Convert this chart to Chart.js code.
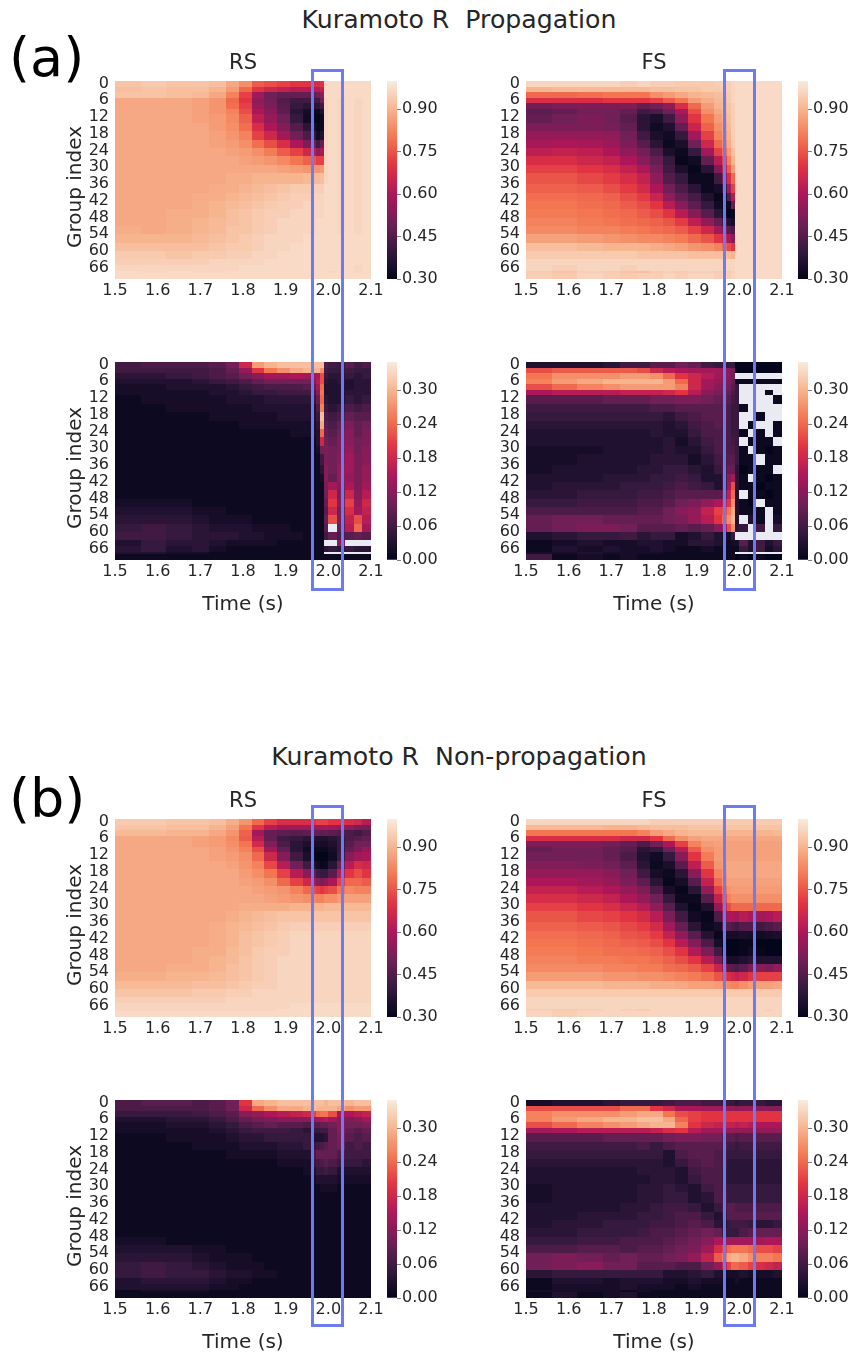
<!DOCTYPE html>
<html>
<head>
<meta charset="utf-8">
<title>Kuramoto R</title>
<script src="https://cdn.jsdelivr.net/npm/chart.js@4"></script>
<style>
  html, body { margin: 0; background: #fff; }
  body { position: relative; width: 855px; height: 1354px; overflow: hidden; font-family: "DejaVu Sans", sans-serif; }
  canvas { position: absolute; }
  .suptitle { position: absolute; left: 0; width: 918px; text-align: center; font-size: 25.2px; color: #262626; white-space: pre; line-height: 30px; }
  .letter { position: absolute; left: 9px; font-size: 54px; line-height: 60px; color: #000; }
  .marker { position: absolute; box-sizing: border-box; width: 33px; border: 3.5px solid #6d7af2; }
  .ylabel { position: absolute; left: -26px; width: 200px; height: 24px; line-height: 24px; text-align: center; font-size: 20px; color: #262626; transform: rotate(-90deg); }
</style>
</head>
<body>
<div class="suptitle" style="top:5px">Kuramoto R  Propagation</div>
<div class="letter" style="top:28px">(a)</div>
<div class="suptitle" style="top:742px">Kuramoto R  Non-propagation</div>
<div class="letter" style="top:769px">(b)</div>

<script>
const N = null;
const timeEdges = [1.50,1.56,1.62,1.68,1.72,1.76,1.79,1.82,1.85,1.88,1.91,1.94,1.96,1.97,1.98,1.99,2.00,2.02,2.04,2.06,2.08,2.10];
const rowEdges = [0,2,4,6,8,10,12,15,18,21,24,27,30,33,37,40,43,46,49,52,55,58,61,64,66,68,69,71];
const timeTicks = [1.5,1.6,1.7,1.8,1.9,2.0,2.1];
const groupTicks = [0,6,12,18,24,30,36,42,48,54,60,66];
const meanTicks = [0.30,0.45,0.60,0.75,0.90];
const stdTicks = [0.00,0.06,0.12,0.18,0.24,0.30];

// values in hundredths, one line per row band, one number per time column, N = empty cell
const aRsMean = [
[93,94,93,93,92,88,84,76,74,72,70,70,68,68,70,97,97,97,97,97,97],
[92,93,92,92,90,86,78,70,66,64,62,62,62,62,64,97,97,97,97,97,97],
[93,93,92,91,88,82,72,58,50,48,48,48,48,50,55,97,97,97,97,97,97],
[88,88,88,87,85,78,70,55,50,45,42,42,42,42,50,96,97,96,97,96,97],
[88,88,88,87,85,79,72,57,52,46,40,38,38,38,42,96,97,96,97,96,97],
[88,88,88,87,85,82,74,60,54,47,38,34,32,32,36,96,97,96,97,96,97],
[88,88,88,87,86,83,77,63,56,50,40,33,31,30,32,96,97,96,97,96,97],
[88,88,88,88,86,84,79,68,60,53,45,38,35,31,32,96,97,96,97,96,97],
[88,88,88,88,87,85,82,72,66,58,50,44,40,33,36,96,97,96,97,96,97],
[88,88,88,88,87,86,84,79,74,68,60,52,50,42,48,96,97,96,97,96,97],
[88,88,88,88,88,87,86,84,81,76,72,66,62,55,60,96,97,96,97,96,97],
[88,88,88,88,88,88,87,86,85,83,80,77,75,72,72,96,97,96,97,96,97],
[88,88,88,88,88,88,88,88,88,87,86,85,85,85,86,96,97,96,97,96,97],
[88,88,88,88,88,89,89,90,90,90,90,91,91,91,92,96,97,96,97,96,97],
[88,88,88,88,89,89,90,91,92,93,94,94,95,95,95,97,97,96,97,96,97],
[88,88,88,89,89,90,91,92,93,94,95,95,96,96,96,97,97,96,97,96,97],
[88,88,88,89,90,91,92,93,94,95,95,96,96,96,96,97,97,96,97,96,97],
[88,88,89,89,90,92,93,94,95,95,96,96,96,96,96,97,97,96,97,96,97],
[88,88,89,90,91,92,93,94,95,96,96,96,96,97,97,97,97,96,97,96,97],
[89,88,89,90,91,93,93,94,95,96,96,96,96,97,97,97,97,96,97,96,97],
[90,90,90,91,92,93,94,95,96,96,96,97,97,97,97,97,97,97,97,97,97],
[92,92,92,92,93,94,94,95,96,96,97,97,97,97,97,97,97,97,97,97,97],
[94,94,93,94,94,95,95,96,96,97,97,97,97,97,97,97,97,97,97,97,97],
[95,95,95,95,96,96,96,96,97,97,97,97,97,97,97,97,97,97,97,97,97],
[96,96,96,96,96,96,97,97,97,97,97,97,97,97,97,97,97,97,97,96,97],
[97,96,97,96,96,97,97,97,97,97,97,97,97,97,97,97,96,97,97,96,97],
[97,97,97,97,97,97,97,97,97,97,97,97,97,97,97,97,97,97,97,97,97]
];
const aFsMean = [
[96,96,96,96,95,96,95,95,94,94,94,95,95,95,96,97,97,97,97,97,97],
[90,91,91,91,91,91,92,92,93,93,94,94,94,95,96,97,97,97,97,97,97],
[78,78,79,80,80,80,84,86,88,90,91,92,93,94,96,97,97,97,97,97,97],
[68,68,68,70,70,70,72,76,80,86,89,91,92,94,96,97,97,97,97,97,97],
[50,52,52,52,52,48,50,55,68,78,86,90,91,93,95,97,97,97,97,97,97],
[47,48,50,50,48,42,44,50,60,74,84,88,90,93,95,97,97,97,97,97,97],
[48,50,52,50,46,38,35,42,55,70,80,86,89,92,95,97,97,97,97,97,97],
[52,52,52,51,48,38,33,36,48,65,77,84,88,91,95,97,97,97,97,97,97],
[56,56,56,55,50,42,35,33,40,58,72,82,86,90,95,97,97,97,97,97,97],
[59,60,59,57,52,46,38,32,35,50,66,78,84,89,94,97,97,97,97,97,97],
[63,64,63,60,55,50,44,35,32,40,58,72,80,86,92,97,97,97,97,97,97],
[68,68,66,64,60,54,48,40,31,33,48,62,72,82,90,97,97,97,97,97,97],
[72,72,70,68,64,60,52,42,35,31,38,52,65,76,86,97,97,97,97,97,97],
[75,75,73,71,68,64,55,45,40,32,32,42,55,68,78,97,97,97,97,97,97],
[77,77,76,74,71,67,60,50,44,38,32,34,42,58,72,97,97,97,97,97,97],
[79,79,78,77,74,71,65,55,48,43,36,31,33,45,62,97,97,97,97,97,97],
[80,80,79,78,76,74,70,62,54,47,40,33,31,32,48,97,97,97,97,97,97],
[81,81,80,79,78,76,74,70,62,53,46,38,33,30,32,97,97,97,97,97,97],
[82,82,81,80,79,78,77,75,71,63,55,48,42,36,34,97,97,97,97,97,97],
[83,83,82,82,81,80,79,78,76,72,66,58,52,46,44,97,97,97,97,97,97],
[87,87,86,85,84,83,83,82,81,78,75,70,66,60,54,97,97,97,97,97,97],
[92,92,91,90,90,90,89,88,87,85,84,82,78,74,70,97,97,97,97,97,97],
[94,94,94,94,94,93,93,93,93,92,92,92,92,91,90,97,97,97,97,97,97],
[96,96,96,96,96,96,96,96,96,96,96,96,96,96,96,97,97,97,97,97,97],
[96,95,96,96,95,96,96,96,96,96,96,96,96,96,96,97,97,97,97,97,97],
[94,93,95,94,93,92,94,95,94,95,95,94,95,94,95,97,97,97,97,97,97],
[95,94,96,95,94,95,95,96,95,96,96,95,96,95,96,97,97,97,97,97,97]
];
const aRsStd = [
[6,7,7,7,8,10,18,28,30,31,31,31,31,31,31,7,6,5,8,6,7],
[6,6,6,6,7,9,13,20,25,27,29,30,30,30,27,6,5,5,6,5,5],
[4,4,5,6,7,8,10,12,14,14,15,14,14,15,22,5,4,4,5,4,5],
[3,3,3,4,5,6,7,9,10,10,10,10,11,16,22,4,3,4,3,4,4],
[2,2,3,3,3,4,5,6,7,7,7,8,9,14,24,3,3,3,3,4,4],
[2,2,2,2,3,3,4,5,5,6,6,6,7,12,25,3,3,3,4,4,4],
[1,2,2,2,2,3,3,3,4,4,4,4,5,9,24,4,3,3,5,4,5],
[1,1,2,2,2,2,2,3,3,3,3,3,3,7,26,5,4,5,7,6,7],
[1,1,1,1,2,2,2,2,2,3,3,3,3,5,31,7,6,7,9,8,8],
[1,1,1,1,1,1,2,2,2,2,2,2,2,4,29,8,7,9,11,9,10],
[1,1,1,1,1,1,1,1,1,1,2,2,2,3,24,9,8,10,12,9,11],
[1,1,1,1,1,1,1,1,1,1,1,1,1,3,18,10,9,11,12,10,11],
[1,1,1,1,1,1,1,1,1,1,1,1,1,2,10,11,10,11,13,10,12],
[1,1,1,1,1,1,1,1,1,1,1,1,1,1,6,11,10,12,14,11,12],
[1,1,1,1,1,1,1,1,1,1,1,1,1,1,4,12,10,13,14,11,13],
[1,1,1,1,1,1,1,1,1,1,1,1,1,1,2,12,9,13,13,11,13],
[1,1,1,1,1,1,1,1,1,1,1,1,1,1,1,11,14,12,15,11,14],
[1,1,1,1,1,1,1,1,1,1,1,1,1,1,1,10,18,11,18,12,16],
[2,2,2,1,1,1,1,1,1,1,1,1,1,1,1,9,20,12,21,13,18],
[3,3,3,2,2,1,1,1,1,1,1,1,1,1,1,8,18,10,19,14,17],
[4,4,4,3,2,2,2,1,1,1,1,1,1,1,1,9,22,10,17,22,16],
[5,6,5,4,3,3,3,2,2,2,1,1,1,1,1,8,N,9,16,24,14],
[6,6,5,4,4,4,3,3,2,2,2,1,1,1,1,6,9,7,8,9,8],
[3,5,4,4,3,2,2,2,2,1,1,1,1,1,1,N,N,12,N,N,N],
[4,5,3,4,2,1,1,1,1,1,1,1,1,1,1,4,5,4,5,4,4],
[3,3,2,2,1,1,1,1,1,1,1,1,1,1,1,N,N,N,N,N,N],
[1,1,1,1,1,1,1,1,1,1,1,1,1,1,1,1,1,1,1,1,1]
];
const aFsStd = [
[3,3,3,4,6,6,8,8,10,9,6,5,5,5,5,0,0,0,0,0,0],
[22,23,23,23,23,22,18,16,15,14,14,14,13,12,10,0,0,0,0,0,0],
[25,27,27,27,28,28,27,24,20,18,16,14,13,12,10,N,N,N,N,N,N],
[26,28,29,30,30,30,30,28,24,18,14,13,12,11,9,1,1,1,1,1,1],
[22,24,26,27,28,28,28,28,26,18,14,12,11,10,8,5,N,N,N,N,N],
[15,16,16,16,17,17,17,18,20,16,12,11,10,9,7,5,N,N,N,1,N],
[8,8,8,9,9,9,10,10,11,11,10,9,9,8,6,5,N,N,N,N,1],
[6,6,6,6,6,6,7,7,8,8,8,8,8,7,5,5,1,N,N,N,N],
[5,5,5,5,5,5,5,4,6,7,8,8,8,7,5,5,N,N,1,N,N],
[4,4,4,4,4,4,4,3,4,6,7,8,7,7,5,5,N,1,N,N,1],
[3,3,3,3,3,3,4,3,3,5,7,7,7,7,5,5,1,N,1,N,1],
[3,3,3,3,3,3,3,4,2,4,6,7,7,7,6,5,N,1,1,1,N],
[2,2,2,3,3,3,3,4,3,3,5,7,7,7,7,5,1,N,1,0,1],
[2,2,3,3,3,3,4,4,4,2,4,6,7,8,8,5,1,1,N,1,1],
[2,3,3,3,3,4,4,5,5,4,3,5,7,9,9,4,0,1,1,1,N],
[3,3,3,4,4,4,5,5,6,5,3,3,7,12,14,4,1,N,1,0,1],
[3,4,4,4,5,5,5,6,7,6,5,3,6,14,22,4,1,1,0,1,1],
[4,4,5,5,5,6,6,7,8,8,8,8,10,17,24,3,N,1,1,0,1],
[5,5,6,6,6,7,7,8,10,11,13,15,17,20,27,3,1,0,N,1,1],
[7,7,7,7,7,8,8,10,12,13,17,21,22,25,29,3,1,1,1,N,1],
[9,10,10,9,9,9,9,10,11,13,16,20,24,27,30,3,N,3,1,N,2],
[9,10,11,11,10,8,8,8,9,8,9,12,15,22,27,4,5,N,6,N,5],
[3,4,5,5,6,4,5,5,2,3,5,3,2,2,5,N,N,N,N,N,N],
[1,2,3,2,2,3,3,2,2,4,4,3,2,1,2,2,8,3,6,3,5],
[1,3,2,3,2,2,3,2,1,1,2,1,1,1,1,1,5,3,6,2,4],
[2,2,3,2,2,2,2,1,1,1,1,1,1,1,1,N,N,N,N,N,N],
[6,1,2,1,2,1,1,1,1,1,1,1,1,1,1,0,1,0,1,0,0]
];
const bRsMean = [
[94,94,93,93,92,89,85,78,72,68,68,68,70,72,72,72,70,70,68,66,62],
[93,93,92,92,90,87,80,70,62,58,58,58,58,58,58,60,58,56,55,52,50],
[91,91,90,90,88,85,77,58,48,47,46,47,48,48,47,48,47,45,44,42,45],
[88,88,88,87,86,83,76,62,48,42,40,38,37,36,36,36,38,40,44,46,48],
[88,88,88,87,86,84,80,67,53,44,38,35,34,34,34,34,36,40,46,50,50],
[88,88,88,88,87,85,82,74,58,48,38,33,32,32,32,32,34,40,48,52,56],
[88,88,88,88,87,86,84,78,66,53,42,35,31,30,30,30,33,42,54,58,60],
[88,88,88,88,88,87,85,82,73,62,50,42,37,33,31,32,38,50,62,68,66],
[88,88,88,88,88,88,86,84,80,72,62,54,48,42,40,40,46,62,70,74,70],
[88,88,88,88,88,88,87,86,84,78,72,66,60,54,52,54,60,72,78,78,76],
[88,88,88,88,88,88,88,87,86,85,82,78,74,72,70,72,74,80,83,82,82],
[88,88,88,88,88,88,88,88,87,86,85,84,83,82,82,84,84,86,87,87,87],
[88,88,88,88,88,88,89,89,89,89,90,90,90,90,90,91,91,91,91,91,91],
[88,88,88,88,88,89,90,91,92,93,93,93,93,93,93,93,93,93,93,93,93],
[88,88,88,88,89,90,91,92,93,94,95,95,95,95,95,95,95,95,95,95,95],
[88,88,88,88,89,90,92,93,94,95,96,96,96,96,96,96,96,96,96,96,96],
[88,88,88,88,89,90,92,93,94,95,96,96,96,96,96,96,96,96,96,96,96],
[88,88,88,89,89,91,92,94,95,95,96,96,96,96,96,96,96,96,96,96,96],
[88,88,88,89,90,91,93,94,95,96,96,96,96,96,96,96,96,96,96,96,96],
[88,88,89,89,90,92,93,94,95,96,96,96,96,96,96,96,96,96,96,96,96],
[89,89,90,90,91,92,93,94,95,96,96,96,96,96,96,96,96,96,96,96,96],
[91,91,91,92,92,93,94,95,95,96,96,96,96,96,96,96,96,96,96,96,96],
[93,93,93,94,94,95,95,96,96,96,96,96,96,96,96,96,96,96,96,96,96],
[95,95,95,95,95,96,96,96,96,96,96,96,96,96,96,96,96,96,96,96,96],
[96,96,96,96,96,96,96,96,96,96,97,97,97,97,97,97,97,97,97,97,97],
[96,96,96,96,96,96,96,96,96,97,97,97,97,97,97,97,97,97,97,97,97],
[97,97,97,97,97,97,97,97,97,97,97,97,97,97,97,97,97,97,97,97,97]
];
const bFsMean = [
[96,96,96,96,96,96,95,95,95,95,95,95,94,94,94,94,94,94,94,94,94],
[91,91,91,90,90,91,92,92,92,93,93,93,93,93,93,93,93,93,93,93,93],
[80,80,80,80,80,82,86,88,90,91,91,91,90,90,90,90,90,90,90,90,91],
[68,68,68,68,66,66,70,78,84,87,88,88,88,88,88,88,88,88,88,88,88],
[52,52,52,50,48,44,50,60,72,82,86,87,87,87,87,87,87,87,87,87,87],
[48,50,50,48,46,38,40,50,62,76,84,86,87,87,87,87,87,87,87,87,87],
[50,50,50,48,44,36,33,40,54,70,81,86,87,87,87,87,87,87,87,87,87],
[53,53,52,50,47,38,32,35,46,63,76,85,87,88,88,88,88,88,88,88,88],
[56,56,56,54,50,42,34,32,38,54,70,82,86,88,88,88,88,88,88,88,88],
[60,60,58,56,52,47,38,31,34,46,64,78,84,87,87,87,87,87,87,87,87],
[64,64,62,60,56,52,44,34,31,38,56,72,80,85,86,86,86,86,86,86,86],
[68,68,66,64,60,56,50,40,32,32,46,64,74,82,84,84,84,84,84,84,84],
[72,72,70,68,65,62,55,46,36,31,36,55,66,74,78,78,78,78,78,78,78],
[75,75,73,72,70,67,62,52,42,33,31,44,56,60,60,58,62,60,58,60,62],
[77,77,76,75,73,71,67,58,48,38,32,34,46,46,44,42,45,45,42,44,46],
[79,79,78,77,75,74,71,64,55,46,37,31,34,34,34,34,35,34,33,34,35],
[80,80,79,78,77,76,74,70,62,53,44,34,31,30,30,30,31,31,30,30,30],
[81,81,80,79,79,78,77,74,70,61,52,42,33,30,30,30,31,33,31,30,30],
[82,82,81,81,80,80,79,77,74,70,62,52,42,34,34,34,36,38,36,36,36],
[83,83,83,82,82,81,81,79,78,76,72,65,56,47,46,44,47,52,54,52,56],
[86,86,86,85,85,84,84,83,82,81,79,75,72,68,66,64,66,70,72,72,72],
[91,91,91,90,90,90,89,89,88,87,87,86,85,83,82,82,84,86,87,87,88],
[94,94,94,94,94,94,94,94,94,94,94,94,94,94,94,94,94,94,94,94,94],
[96,96,96,96,96,96,96,96,96,96,96,96,96,96,96,96,96,96,96,96,96],
[96,96,96,96,96,96,96,96,96,96,96,96,96,96,96,96,96,96,96,96,96],
[95,94,95,96,95,94,96,96,96,96,96,96,96,96,96,96,96,96,96,95,96],
[96,95,96,96,96,96,96,96,96,96,96,96,96,96,96,96,96,96,96,96,96]
];
const bRsStd = [
[7,8,8,7,8,10,20,29,30,31,31,31,31,31,31,30,31,31,30,31,31],
[7,7,7,7,8,10,18,24,27,29,29,30,31,30,30,30,30,29,27,28,28],
[5,5,5,6,7,8,12,13,15,16,17,18,21,24,25,25,22,14,15,16,17],
[3,3,4,4,5,7,9,10,11,12,12,12,13,14,15,16,14,12,11,12,14],
[2,2,3,3,4,5,7,8,9,8,8,7,8,8,9,9,10,12,10,10,11],
[2,2,2,2,3,4,5,6,6,6,5,4,5,5,6,6,9,12,9,8,9],
[1,1,2,2,2,3,4,4,5,5,5,5,3,3,3,4,9,11,8,7,8],
[1,1,1,2,2,2,3,3,3,4,4,5,5,6,7,8,9,10,6,7,6],
[1,1,1,1,1,2,2,2,2,3,3,3,7,9,9,9,9,7,6,6,6],
[1,1,1,1,1,1,1,1,1,2,2,2,5,6,7,8,7,5,5,5,4],
[1,1,1,1,1,1,1,1,1,1,1,2,3,5,5,6,5,3,3,3,3],
[1,1,1,1,1,1,1,1,1,1,1,1,2,3,3,3,3,2,2,2,2],
[1,1,1,1,1,1,1,1,1,1,1,1,1,1,2,2,2,1,1,1,1],
[1,1,1,1,1,1,1,1,1,1,1,1,1,1,1,1,1,1,1,1,1],
[1,1,1,1,1,1,1,1,1,1,1,1,1,1,1,1,1,1,1,1,1],
[1,1,1,1,1,1,1,1,1,1,1,1,1,1,1,1,1,1,1,1,1],
[1,1,1,1,1,1,1,1,1,1,1,1,1,1,1,1,1,1,1,1,1],
[1,1,1,1,1,1,1,1,1,1,1,1,1,1,1,1,1,1,1,1,1],
[2,2,1,1,1,1,1,1,1,1,1,1,1,1,1,1,1,1,1,1,1],
[3,3,3,2,2,1,1,1,1,1,1,1,1,1,1,1,1,1,1,1,1],
[4,4,4,3,2,2,2,1,1,1,1,1,1,1,1,1,1,1,1,1,1],
[5,6,5,4,3,2,2,2,1,1,1,1,1,1,1,1,1,1,1,1,1],
[5,6,5,5,4,3,3,2,2,1,1,1,1,1,1,1,1,1,1,1,1],
[3,4,4,4,3,2,2,1,1,1,1,1,1,1,1,1,1,1,1,1,1],
[3,3,3,3,2,2,1,1,1,1,1,1,1,1,1,1,1,1,1,1,1],
[1,2,2,2,1,1,1,1,1,1,1,1,1,1,1,1,1,1,1,1,1],
[1,1,1,1,1,1,1,1,1,1,1,1,1,1,1,1,1,1,1,1,1]
];
const bFsStd = [
[2,3,3,4,5,5,5,6,7,7,6,6,5,5,5,4,5,5,5,4,4],
[22,22,22,22,24,24,20,18,15,15,14,14,13,13,13,12,13,13,12,12,12],
[26,27,27,27,28,29,29,25,22,21,20,20,20,20,20,20,20,20,20,20,20],
[26,28,29,30,30,31,31,29,24,21,20,20,20,20,20,20,20,20,20,20,20],
[22,24,26,27,28,29,30,30,26,20,18,17,17,17,17,16,17,16,15,15,15],
[14,15,16,16,16,16,17,19,20,16,14,14,14,13,13,13,13,13,13,13,13],
[8,8,8,9,9,9,9,10,11,11,10,10,8,8,8,7,8,8,8,8,8],
[6,6,6,6,6,7,5,7,8,8,8,8,7,6,6,5,6,6,6,6,6],
[5,5,5,5,5,5,5,3,7,8,8,7,6,5,5,5,5,5,5,5,5],
[4,4,4,4,4,4,4,3,5,7,8,7,6,4,4,4,4,4,4,4,4],
[3,3,3,3,3,4,4,4,3,6,7,7,5,4,4,4,4,4,4,4,4],
[3,3,3,3,3,3,4,4,3,5,7,7,5,4,4,4,4,4,4,4,4],
[2,3,3,3,3,4,4,5,4,3,6,7,6,5,5,5,5,5,5,5,5],
[2,3,3,3,3,4,4,5,5,3,4,7,7,5,5,5,5,5,5,5,5],
[3,3,3,3,4,4,5,6,6,5,3,5,7,8,8,7,7,7,7,7,7],
[3,3,4,4,4,5,5,6,7,7,5,3,5,8,8,8,8,8,8,8,8],
[3,4,4,5,5,5,6,6,7,8,7,4,3,5,6,6,6,5,4,4,5],
[4,4,5,5,5,6,7,7,8,9,10,9,5,5,5,5,7,8,9,9,9],
[5,5,6,6,7,7,7,8,9,10,12,15,14,14,14,14,14,14,14,15,15],
[7,7,8,8,7,8,8,9,10,11,14,19,21,24,25,25,25,24,22,22,21],
[10,11,10,9,10,9,9,10,11,13,17,23,26,29,30,30,29,27,26,26,25],
[10,11,12,10,10,8,8,8,7,7,10,13,17,21,24,24,23,21,19,18,17],
[4,5,5,5,5,5,5,3,3,4,5,3,2,2,2,2,3,2,2,2,3],
[1,3,3,2,3,3,3,2,2,3,2,2,1,1,1,2,1,1,1,1,1],
[1,2,2,2,3,2,2,2,1,2,1,1,1,1,1,1,1,1,1,1,1],
[2,2,2,2,1,2,1,1,1,1,1,1,1,1,1,1,1,1,1,1,1],
[1,3,1,2,3,1,1,1,1,1,1,1,1,1,1,1,1,1,1,1,1]
];

const rocketStops = [[3,5,26],[53,25,62],[112,31,87],[173,23,89],[225,51,66],[243,118,81],[246,180,143],[250,235,221]];
const textColor = '#262626';
const heatSize = { w: 256, h: 198 };
const margin = { left: 55, right: 55, top: 35, bottom: 57 };

function rocketColor(t) {
  const p = Math.min(Math.max(t, 0), 1) * (rocketStops.length - 1);
  const i = Math.min(Math.floor(p), rocketStops.length - 2);
  const f = p - i;
  const c = rocketStops[i].map((a, k) => Math.round(a + (rocketStops[i + 1][k] - a) * f));
  return `rgb(${c[0]},${c[1]},${c[2]})`;
}

// paints one rectangle per cell, positions come from the chart's own scales
const heatCells = {
  id: 'heatCells',
  beforeDatasetsDraw(chart, args, opts) {
    const { ctx, chartArea, scales } = chart;
    ctx.save();
    ctx.fillStyle = '#eaeaf2';
    ctx.fillRect(chartArea.left, chartArea.top, chartArea.width, chartArea.height);
    chart.data.datasets[0].data.forEach(c => {
      if (c.v === null) return;
      const x0 = Math.round(scales.x.getPixelForValue(c.t0));
      const x1 = Math.round(scales.x.getPixelForValue(c.t1));
      const y0 = Math.round(scales.y.getPixelForValue(c.r0));
      const y1 = Math.round(scales.y.getPixelForValue(c.r1));
      ctx.fillStyle = rocketColor((c.v / 100 - opts.vmin) / (opts.vmax - opts.vmin));
      ctx.fillRect(x0, y0, x1 - x0, y1 - y0);
    });
    ctx.restore();
  }
};

function buildCells(values) {
  const cells = [];
  values.forEach((row, r) => {
    row.forEach((v, c) => {
      cells.push({
        x: (timeEdges[c] + timeEdges[c + 1]) / 2, y: (rowEdges[r] + rowEdges[r + 1]) / 2,
        t0: timeEdges[c], t1: timeEdges[c + 1], r0: rowEdges[r], r1: rowEdges[r + 1], v: v
      });
    });
  });
  return cells;
}

function addCanvas(left, top, w, h) {
  const cv = document.createElement('canvas');
  cv.width = w;
  cv.height = h;
  cv.style.left = left + 'px';
  cv.style.top = top + 'px';
  cv.style.width = w + 'px';
  cv.style.height = h + 'px';
  document.body.appendChild(cv);
  return cv;
}

function drawHeat(p) {
  const isMean = p.kind === 'mean';
  const cv = addCanvas(p.left - margin.left, p.top - margin.top, heatSize.w + margin.left + margin.right, heatSize.h + margin.top + margin.bottom);
  new Chart(cv, {
    type: 'scatter',
    data: { datasets: [{ data: buildCells(p.values), pointRadius: 0 }] },
    plugins: [heatCells],
    options: {
      responsive: false,
      animation: false,
      events: [],
      layout: { autoPadding: false, padding: { left: 0, right: 0, top: p.title ? 0 : margin.top, bottom: 0 } },
      plugins: {
        legend: { display: false },
        tooltip: { enabled: false },
        title: { display: p.title !== '', text: p.title, color: textColor, font: { family: 'DejaVu Sans', size: 21, weight: 'normal', lineHeight: 24 / 21 }, padding: { top: 6, bottom: 5 } },
        heatCells: { vmin: isMean ? 0.3 : 0, vmax: isMean ? 1 : 0.35 }
      },
      scales: {
        x: {
          type: 'linear', min: 1.5, max: 2.1,
          grid: { display: false, drawTicks: false, tickLength: 0 }, border: { display: false },
          afterBuildTicks(s) { s.ticks = timeTicks.map(v => ({ value: v })); },
          afterFit(s) { s.height = margin.bottom; },
          ticks: { color: textColor, font: { family: 'DejaVu Sans', size: 16 }, padding: 2, maxRotation: 0, autoSkip: false, callback: v => v.toFixed(1) },
          title: { display: p.xTitle, text: 'Time (s)', color: textColor, font: { family: 'DejaVu Sans', size: 20 }, padding: 0 }
        },
        y: {
          type: 'linear', min: 0, max: 71, reverse: true,
          grid: { display: false, drawTicks: false, tickLength: 0 }, border: { display: false },
          afterBuildTicks(s) { s.ticks = groupTicks.map(v => ({ value: v + 0.9 })); },
          afterFit(s) { s.width = margin.left; },
          ticks: { color: textColor, font: { family: 'DejaVu Sans', size: 16 }, padding: 6, autoSkip: false, callback: v => String(Math.round(v - 0.9)) }
        },
        // empty axis on the right, keeps the title centred over the plot
        yPad: {
          axis: 'y', position: 'right',
          grid: { display: false, drawTicks: false }, border: { display: false }, ticks: { display: false },
          afterFit(s) { s.width = margin.right; }
        }
      }
    }
  });
  if (p.yTitle) {
    const d = document.createElement('div');
    d.className = 'ylabel';
    d.textContent = 'Group index';
    d.style.top = (p.top + heatSize.h / 2 + 7 - 12) + 'px';
    document.body.appendChild(d);
  }
}

function drawColorbar(p) {
  const isMean = p.kind === 'mean';
  const vmin = isMean ? 0.3 : 0;
  const vmax = isMean ? 1 : 0.35;
  const barWidth = 10;
  const cv = addCanvas(p.left + heatSize.w + 16, p.top - 12, 70, heatSize.h + 24);
  new Chart(cv, {
    type: 'bar',
    data: {
      labels: ['bar'],
      datasets: [{
        data: [[vmin, vmax]],
        barPercentage: 1, categoryPercentage: 1, borderWidth: 0, borderSkipped: false,
        backgroundColor(ctx) {
          const a = ctx.chart.chartArea;
          if (!a) return '#000';
          const g = ctx.chart.ctx.createLinearGradient(0, a.bottom, 0, a.top);
          for (let i = 0; i <= 40; i++) g.addColorStop(i / 40, rocketColor(i / 40));
          return g;
        }
      }]
    },
    options: {
      responsive: false,
      animation: false,
      events: [],
      layout: { autoPadding: false, padding: { top: 12, bottom: 12, left: 0, right: 0 } },
      plugins: { legend: { display: false }, tooltip: { enabled: false } },
      scales: {
        x: { display: false },
        y: {
          position: 'right', min: vmin, max: vmax,
          grid: { display: true, drawOnChartArea: false, drawTicks: true, tickLength: 4, color: '#808080' },
          border: { display: false },
          afterBuildTicks(s) { s.ticks = (isMean ? meanTicks : stdTicks).map(v => ({ value: v })); },
          afterFit(s) { s.width = 70 - barWidth; },
          ticks: { color: textColor, font: { family: 'DejaVu Sans', size: 16 }, padding: 1, autoSkip: false, callback: v => v.toFixed(2) }
        }
      }
    }
  });
}

const panels = [
  { values: aRsMean, kind: 'mean', left: 115, top: 81, title: 'RS', xTitle: false, yTitle: true },
  { values: aFsMean, kind: 'mean', left: 526, top: 81, title: 'FS', xTitle: false, yTitle: false },
  { values: aRsStd, kind: 'std', left: 115, top: 362, title: '', xTitle: true, yTitle: true },
  { values: aFsStd, kind: 'std', left: 526, top: 362, title: '', xTitle: true, yTitle: false },
  { values: bRsMean, kind: 'mean', left: 115, top: 819, title: 'RS', xTitle: false, yTitle: true },
  { values: bFsMean, kind: 'mean', left: 526, top: 819, title: 'FS', xTitle: false, yTitle: false },
  { values: bRsStd, kind: 'std', left: 115, top: 1100, title: '', xTitle: true, yTitle: true },
  { values: bFsStd, kind: 'std', left: 526, top: 1100, title: '', xTitle: true, yTitle: false }
];

panels.forEach(p => { drawHeat(p); drawColorbar(p); });

// the four highlight frames run across two panels each, so they sit above the canvases
[[311, 69, 522], [722.5, 69, 522], [311, 805, 522], [722.5, 805, 522]].forEach(m => {
  const d = document.createElement('div');
  d.className = 'marker';
  d.style.left = m[0] + 'px';
  d.style.top = m[1] + 'px';
  d.style.height = m[2] + 'px';
  document.body.appendChild(d);
});
</script>
</body>
</html>
